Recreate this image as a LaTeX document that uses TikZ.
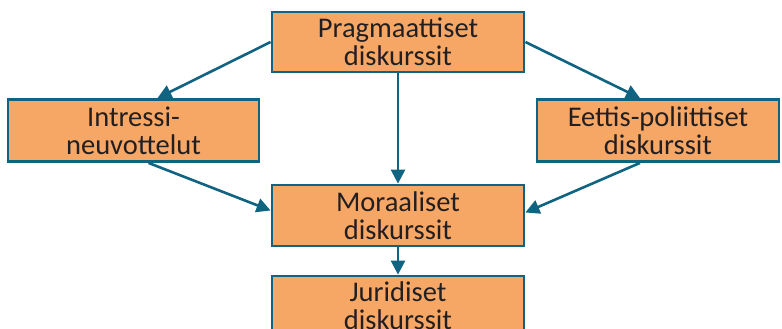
\documentclass[tikz,border=0pt]{standalone}
\usepackage{fontspec}
\setmainfont{Carlito}
\usetikzlibrary{arrows.meta,calc}
\definecolor{boxfill}{RGB}{246,167,102}
\definecolor{edgeblue}{RGB}{16,100,130}
\definecolor{textgray}{RGB}{35,31,32}
\tikzset{
  stage/.style={draw=edgeblue, line width=2.8pt, fill=boxfill, minimum height=60pt,
    align=center, font=\fontsize{28.5}{28}\selectfont, text=textgray, inner sep=0pt},
  flow/.style={draw=edgeblue, line width=2.6pt, -{Triangle[length=14pt,width=14pt]}}
}
\begin{document}
\begin{tikzpicture}[x=1pt,y=-1pt]
\clip (0,0) rectangle (782,329);
\fill[white] (0,0) rectangle (782,329);
\node[stage, minimum width=252pt] (prag) at (398,42) {Pragmaattiset\\diskurssit};
\node[stage, minimum width=251pt, minimum height=62pt] (intr) at (133.5,130.5) {Intressi-\\neuvottelut};
\node[stage, minimum width=242pt, minimum height=62pt] (etti) at (658,130.5) {Eettis-poliittiset\\diskurssit};
\node[stage, minimum width=252pt, minimum height=61pt] (mora) at (398,215.5) {Moraaliset\\diskurssit};
\node[stage, minimum width=252pt] (juri) at (398,306) {Juridiset\\diskurssit};
\draw[flow] (prag.west) -- ([xshift=24pt]intr.north);
\draw[flow] (prag.east) -- ([xshift=-18pt]etti.north);
\draw[flow] ([xshift=15pt]intr.south) -- ([yshift=5pt]mora.west);
\draw[flow] ([xshift=-18pt]etti.south) -- ([yshift=3pt]mora.east);
\draw[flow] (prag.south) -- (mora.north);
\draw[flow] (mora.south) -- (juri.north);
\end{tikzpicture}
\end{document}
